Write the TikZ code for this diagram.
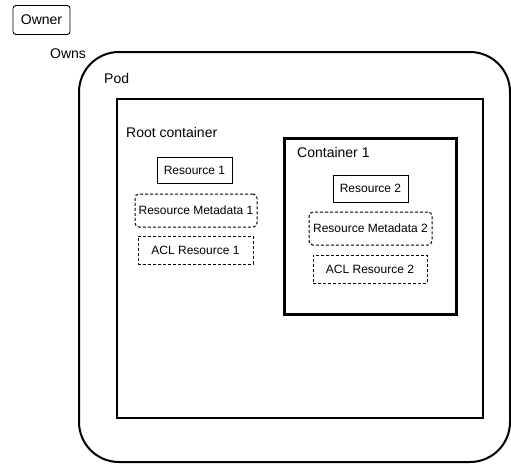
\documentclass[tikz,border=0pt]{standalone}
\usepackage{fontspec}
\setmainfont{Liberation Sans}
\begin{document}
\begin{tikzpicture}[x=1pt,y=-1pt,
  title/.style={anchor=base west,inner sep=0pt,font=\fontsize{14}{16}\selectfont},
  item/.style={draw,line width=0.9pt,inner sep=0pt,font=\fontsize{12}{14}\selectfont},
  meta/.style={item,line width=1pt,dash pattern=on 3pt off 2pt},
  frame/.style={draw,inner sep=0pt,anchor=north west}]
\useasboundingbox (0,0) rectangle (511,464);

% owner and ownership label
\node[item,rounded corners=3pt,minimum width=57pt,minimum height=29pt,
      font=\fontsize{14}{16}\selectfont] (owner) at (41.5,20) {Owner};
\node[title] (owns) at (50,58) {Owns};

% pod and its containers
\draw[line width=2pt,rounded corners=40pt] (79,52) rectangle (510,462);
\coordinate (podnw) at (79,52);
\node[title] (pod) at (104,83) {Pod};

\node[frame,line width=2pt,minimum width=366pt,minimum height=319pt] (root) at (116,98) {};
\node[title] (roottitle) at (126,137) {Root container};

\node[frame,line width=2.6pt,minimum width=172pt,minimum height=176pt] (c1) at (283,137) {};
\node[title] (c1title) at (297,157) {Container 1};

% resources of the root container
\node[item,minimum width=75pt,minimum height=26pt] (r1) at (194.5,170) {Resource 1};
\node[meta,rounded corners=4pt,minimum width=122pt,minimum height=33pt] (rm1) at (196,210.5) {Resource Metadata 1};
\node[meta,minimum width=115pt,minimum height=28pt] (acl1) at (195.5,250) {ACL Resource 1};

% resources of container 1
\node[item,minimum width=75pt,minimum height=27pt] (r2) at (370.5,188.5) {Resource 2};
\node[meta,rounded corners=4pt,minimum width=123pt,minimum height=33pt] (rm2) at (370.5,228.5) {Resource Metadata 2};
\node[meta,minimum width=114pt,minimum height=28pt] (acl2) at (370,269) {ACL Resource 2};
\end{tikzpicture}
\end{document}
